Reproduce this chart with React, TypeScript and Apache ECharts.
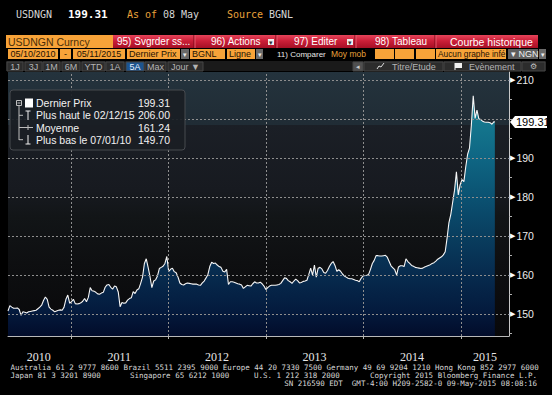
import React, { useEffect, useRef } from "react";
import * as echarts from "echarts";

// ---- data (weekly closes, starting 2010-05-10) ----
const startDate = "2010-05-10";
const pricesY1 = [150.8,152.2,151.8,151.5,151.5,151.6,151.2,149.7,150.6,150.5,150.3,150.6,150.7,150.8,150.9,151.0,151.4,151.8,152.3,153.5,154.4,153.8,151.8,151.3,151.0,150.6,150.8,151.0,151.1,151.0,151.8,153.8,154.9,152.8,153.2,153.8,152.7,152.6,152.7,152.9,153.3,154.0,153.2,154.3,156.8,156.0,155.9,155.6,155.2,155.1,155.4,155.6];
const pricesY2 = [156.9,157.5,157.6,156.9,156.4,157.2,157.0,155.7,151.9,153.0,152.8,152.9,153.6,154.0,154.2,155.8,155.3,156.2,156.5,157.9,159.5,163.0,164.2,162.0,159.6,156.8,158.5,158.8,159.8,161.7,162.0,162.3,163.0,164.8,161.0,161.5,161.8,160.9,160.6,159.5,158.0,157.6,157.5,157.8,158.0,157.9,157.8,157.7,157.7,157.7,157.5,157.4];
const pricesY3 = [158.0,158.5,159.3,160.2,162.2,163.3,163.0,163.1,162.6,162.2,162.0,161.0,160.8,161.5,157.6,158.3,158.3,158.2,158.0,157.8,157.7,157.5,156.6,157.0,157.4,157.3,157.2,157.8,158.3,158.0,158.0,158.2,157.8,157.2,156.3,156.8,157.2,157.4,157.4,157.4,157.5,157.6,157.9,158.6,159.3,159.2,158.6,158.3,157.9,158.5,159.0,158.6];
const pricesY4 = [158.0,158.1,158.4,158.5,158.7,160.2,161.8,160.0,162.6,159.5,161.8,162.0,161.6,160.7,160.5,161.2,162.2,163.0,163.5,162.5,161.0,161.4,161.0,160.3,159.8,159.5,159.2,159.1,159.1,158.9,158.7,158.6,158.3,159.2,159.8,159.9,160.0,160.2,161.5,163.0,163.8,165.0,165.0,164.9,164.9,165.0,165.1,164.6,163.5,162.4,161.9,161.4];
const pricesY5 = [160.0,162.1,162.4,162.4,162.2,164.2,163.5,163.0,162.5,162.3,162.0,161.9,161.8,161.7,161.8,162.1,162.3,162.5,162.7,163.0,163.2,163.6,164.1,164.4,164.7,165.2,166.0,169.5,173.5,175.6,178.7,181.8,186.5,180.6,183.2,184.5,184.0,187.8,191.0,192.6,198.5,206.0,200.2,202.3,200.1,199.9,199.5,199.3,199.2,199.2,199.1,198.7,199.3];
const lastDate = "2015-05-08";
const lastPrice = 199.31;

const axisStart = "2010-05-10";
const axisEnd = "2015-06-30";
const yMin = 144.4;
const yMax = 212.1;
const yGridValues = [150, 160, 170, 180, 190, 200, 210];
const yLabelValues = [150, 160, 170, 180, 190, 210];
const yMinorTicks = [145, 150, 155, 160, 165, 170, 175, 180, 185, 190, 195, 200, 205, 210];
const yearBoundaries = ["2011-01-01", "2012-01-01", "2013-01-01", "2014-01-01", "2015-01-01"];
const yearLabelDates = ["2010-09-02", "2011-07-01", "2012-07-01", "2013-07-01", "2014-07-02", "2015-04-01"];

const legendNames = ["Dernier Prix", "Plus haut le 02/12/15", "Moyenne", "Plus bas le 07/01/10"];
const legendValues = ["199.31", "206.00", "161.24", "149.70"];

const footer1 = "Australia 61 2 9777 8600 Brazil 5511 2395 9000 Europe 44 20 7330 7500 Germany 49 69 9204 1210 Hong Kong 852 2977 6000";
const footer2 = ["Japan 81 3 3201 8900", "Singapore 65 6212 1000", "U.S. 1 212 318 2000", "Copyright 2015 Bloomberg Finance L.P."];
const footer3 = "SN 216590 EDT  GMT-4:00 H209-2582-0 09-May-2015 08:08:16";

const SANS = "'Liberation Sans', Arial, sans-serif";
const MONO = "'DejaVu Sans Mono', monospace";

function ts(s: string) {
  const [y, m, d] = s.split("-").map(Number);
  return new Date(y, m - 1, d).getTime();
}

function T(x: number, y: number, text: string, fill: string, font: string, align = "left", z = 10) {
  return {
    type: "text", x, y, z, silent: true,
    style: { text, fill, font, textAlign: align, align, textVerticalAlign: "middle", verticalAlign: "middle" },
  };
}
function R(x: number, y: number, w: number, h: number, fill: any, stroke?: string, z = 5, r = 0) {
  return {
    type: "rect", z, silent: true,
    shape: { x, y, width: w, height: h, r },
    style: { fill, stroke: stroke || null, lineWidth: stroke ? 1 : 0 },
  };
}
function L(x1: number, y1: number, x2: number, y2: number, stroke: string, z = 10, w = 1) {
  return { type: "line", z, silent: true, shape: { x1, y1, x2, y2 }, style: { stroke, lineWidth: w } };
}

function headerElements() {
  const els: any[] = [];
  els.push(T(16, 14, "USDNGN", "#d6d6d6", `10px ${MONO}`));
  els.push(T(68, 14, "199.31", "#ffffff", `bold 11px ${MONO}`));
  els.push(T(127, 14, "As of", "#e9a23b", `10px ${MONO}`));
  els.push(T(163, 14, "08 May", "#d6d6d6", `10px ${MONO}`));
  els.push(T(227, 14, "Source", "#e9a23b", `10px ${MONO}`));
  els.push(T(269, 14, "BGNL", "#d6d6d6", `10px ${MONO}`));

  els.push(R(6, 35, 107, 13, "#f7a339"));
  els.push(T(8, 41.5, "USDNGN Curncy", "#4a2e08", `10.5px ${SANS}`));
  const red = new echarts.graphic.LinearGradient(0, 0, 0, 1, [
    { offset: 0, color: "#e5445a" },
    { offset: 0.45, color: "#cc1f38" },
    { offset: 1, color: "#a50f25" },
  ]);
  els.push(R(113, 35, 425, 13, red));
  [194, 276, 355, 435].forEach((x) => {
    els.push(L(x, 35, x, 48, "#7a0716", 6));
    els.push(L(x + 1, 35, x + 1, 48, "#e85a6c", 6));
  });
  els.push(T(117, 41.5, "95) Svgrder ss...", "#ffffff", `10px ${SANS}`));
  els.push(T(211, 41.5, "96) Actions", "#ffffff", `10px ${SANS}`));
  els.push(R(268, 39, 6, 6, "#eeeeee", undefined, 6));
  els.push(T(271, 42, "▾", "#333", `7px ${SANS}`, "center", 11));
  els.push(T(294, 41.5, "97) Editer", "#ffffff", `10px ${SANS}`));
  els.push(R(347, 39, 6, 6, "#eeeeee", undefined, 6));
  els.push(T(350, 42, "▾", "#333", `7px ${SANS}`, "center", 11));
  els.push(T(375, 41.5, "98) Tableau", "#ffffff", `10px ${SANS}`));
  els.push(T(450, 41.5, "Courbe historique", "#ffffff", `10.5px ${SANS}`));

  const OR = "#f7a339";
  const boxes: [number, number, string, string][] = [
    [8, 50, "05/10/2010", "center"],
    [60, 11, "-", "center"],
    [73, 52, "05/11/2015", "center"],
    [127, 53, "Dernier Prix", "left"],
    [190, 35, "BGNL", "left"],
    [227, 28, "Ligne", "left"],
    [375, 19, "", "left"],
    [395, 19, "", "left"],
    [416, 19, "", "left"],
    [436, 70, "Aucun graphe infé", "left"],
  ];
  boxes.forEach(([x, w, t, a]) => {
    els.push(R(x, 49, w, 10, OR));
    if (t) els.push(T(a === "center" ? x + w / 2 : x + 2, 54, t, "#1c1204", `${t.length > 14 ? 8.3 : 9}px ${SANS}`, a));
  });
  [[181, 8], [256, 7], [539, 7]].forEach(([x, w]) => {
    els.push(R(x, 49, w, 10, "#6a6a6a"));
    els.push(T(x + w / 2, 54, "▾", "#eeeeee", `7px ${SANS}`, "center"));
  });
  els.push(R(508, 49, 30, 10, "#5e5e5e"));
  els.push(T(511, 54, "▾ NGN", "#f0f0f0", `9px ${SANS}`));
  els.push(T(277, 54, "11) Comparer", "#e8e8e8", `8px ${SANS}`));
  els.push(T(331, 54, "Moy mob", "#e9a23b", `8.5px ${SANS}`));

  els.push(R(6, 61, 540, 10, "#1a1a1a"));
  const btns: [string, number, number][] = [
    ["1J", 7, 23], ["3J", 25, 42], ["1M", 43, 60], ["6M", 62, 80], ["YTD", 82, 105],
    ["1A", 106, 124], ["5A", 126, 144], ["Max", 145, 166], ["Jour ▼", 168, 203],
  ];
  btns.forEach(([t, a, b]) => {
    const sel = t === "5A";
    els.push(R(a, 62, b - a, 9, sel ? "#1c548f" : "#2c2c2c", "#444444"));
    els.push(T((a + b) / 2, 66.5, t, sel ? "#e8f0ff" : "#b4b4b4", `9px ${SANS}`, "center"));
  });
  els.push(R(353, 62, 10, 9, "#505050", "#444"));
  els.push(T(358, 66.5, "◂", "#cccccc", `7px ${SANS}`, "center"));
  els.push(R(364, 62, 79, 9, "#2c2c2c", "#444"));
  els.push({ type: "polyline", z: 11, silent: true, shape: { points: [[377, 69], [379, 66], [381, 67], [384, 63]] }, style: { stroke: "#ddd", lineWidth: 1, fill: null } });
  els.push(T(392, 66.5, "Titre/Etude", "#b4b4b4", `9px ${SANS}`));
  els.push(R(444, 62, 77, 9, "#2c2c2c", "#444"));
  els.push(R(455, 63, 7, 5, "#f0f0f0", undefined, 11));
  els.push(L(455, 63, 455, 70, "#f0f0f0", 11));
  els.push(T(469, 66.5, "Evènement", "#b4b4b4", `9px ${SANS}`));
  els.push(R(522, 62, 23, 9, "#2c2c2c", "#444"));
  els.push(T(533.5, 66.5, "⚙", "#c0c0c0", `8px 'DejaVu Sans', sans-serif`, "center"));
  return els;
}

function legendElements() {
  const els: any[] = [];
  const z = 100;
  els.push(R(10, 90, 175, 60, "rgba(26,30,36,0.92)", "#474a4f", z, 3));
  const rows = [103.3, 115.3, 127.5, 139.7];
  legendNames.forEach((n, i) => {
    els.push(T(36, rows[i], n, "#f2f2f2", `10.5px ${SANS}`, "left", z + 1));
    els.push(T(170, rows[i], legendValues[i], "#f2f2f2", `10.5px ${SANS}`, "right", z + 1));
  });
  const g = "#bdbdbd";
  els.push({ type: "rect", z: z + 1, silent: true, shape: { x: 16.5, y: 100.5, width: 5, height: 5 }, style: { fill: null, stroke: g, lineWidth: 1 } });
  els.push(L(17.5, 103, 20.5, 103, g, z + 1));
  els.push(R(25, 98.5, 8, 9, "#ffffff", undefined, z + 1));
  els.push(L(19, 106, 19, 140, g, z + 1));
  els.push(L(19, 115.3, 23, 115.3, g, z + 1));
  els.push(L(19, 127.5, 33, 127.5, g, z + 1));
  els.push(L(28, 125, 28, 130, g, z + 1));
  els.push(L(19, 139.7, 23, 139.7, g, z + 1));
  els.push(L(28, 111, 28, 120, "#f0f0f0", z + 1));
  els.push(L(25.5, 111, 30.5, 111, "#f0f0f0", z + 1));
  els.push(L(28, 135, 28, 144, "#f0f0f0", z + 1));
  els.push(L(25.5, 144, 30.5, 144, "#f0f0f0", z + 1));
  return els;
}

function footerElements() {
  const f = `7.5px ${MONO}`;
  const c = "#d8d8d8";
  return [
    T(10.5, 367, footer1, c, f),
    T(10.5, 375, footer2[0], c, f),
    T(130, 375, footer2[1], c, f),
    T(254, 375, footer2[2], c, f),
    T(537, 375, footer2[3], c, f, "right"),
    T(537, 383, footer3, c, f, "right"),
  ];
}

function tagElements(y: number) {
  return [
    {
      type: "polygon", z: 50, silent: true,
      shape: { points: [[510, y], [515, y - 6], [547, y - 6], [547, y + 6], [515, y + 6]] },
      style: { fill: "#ffffff" },
    },
    T(516, y + 0.5, String(lastPrice), "#000000", `11px ${SANS}`, "left", 51),
  ];
}

export default function App() {
  const ref = useRef<HTMLDivElement>(null);
  useEffect(() => {
    document.body.style.margin = "0";
    const chart = echarts.init(ref.current!, null, { renderer: "svg" });
    const start = ts(startDate);
    const weekly = [...pricesY1, ...pricesY2, ...pricesY3, ...pricesY4, ...pricesY5];
    const data: [number, number][] = weekly.map((v, i) => [start + i * 7 * 86400000, v]);
    data.push([ts(lastDate), lastPrice]);

    const plotBg = new echarts.graphic.LinearGradient(0, 0, 0, 1, [
      { offset: 0, color: "#24333d" },
      { offset: 0.2, color: "#202c35" },
      { offset: 0.2, color: "#1b1f26" },
      { offset: 0.45, color: "#171a20" },
      { offset: 0.55, color: "#121517" },
      { offset: 0.72, color: "#0e0f11" },
      { offset: 1, color: "#08080a" },
    ]);
    const fill = new echarts.graphic.LinearGradient(0, 79, 0, 336, [
      { offset: 0, color: "#1c8a9c" },
      { offset: 0.15, color: "#15798f" },
      { offset: 0.3, color: "#0f6784" },
      { offset: 0.45, color: "#0b5373" },
      { offset: 0.6, color: "#093f60" },
      { offset: 0.75, color: "#072c4f" },
      { offset: 0.9, color: "#041b3e" },
      { offset: 1, color: "#020c2a" },
    ], true);

    const base = [...headerElements(), ...legendElements(), ...footerElements()];
    const option: any = {
      animation: false,
      backgroundColor: "#000000",
      grid: { left: 8, right: 43, top: 72, bottom: 59, show: true, borderWidth: 0, backgroundColor: plotBg },
      xAxis: {
        type: "value",
        min: ts(axisStart),
        max: ts(axisEnd),
        axisLine: { show: true, lineStyle: { color: "#b8b8b8", width: 1 } },
        axisTick: { show: true, customValues: yearBoundaries.map(ts), length: 3, lineStyle: { color: "#b8b8b8" } },
        axisLabel: {
          customValues: yearLabelDates.map(ts),
          formatter: (v: number) => String(new Date(v).getFullYear()),
          color: "#e6e6e6",
          fontSize: 12,
          fontFamily: "'Liberation Serif', serif",
          margin: 15,
        },
        splitLine: { show: false },
      },
      yAxis: {
        type: "value",
        position: "right",
        min: yMin,
        max: yMax,
        axisLine: { show: true, lineStyle: { color: "#c8c8c8", width: 1 } },
        axisTick: { show: true, customValues: yMinorTicks, length: 3, lineStyle: { color: "#b0b0b0" } },
        axisLabel: {
          customValues: yLabelValues,
          formatter: (v: number) => `{a|▶}{b|${v}}`,
          margin: 1,
          rich: {
            a: { fontSize: 7, color: "#ffffff", fontFamily: "'DejaVu Sans', sans-serif", padding: [0, 1, 0, 0] },
            b: { fontSize: 10.5, color: "#ececec", fontFamily: SANS },
          },
        },
        splitLine: { show: false },
      },
      series: [
        {
          type: "line",
          data,
          showSymbol: false,
          symbol: "none",
          lineStyle: { color: "#f6f6f6", width: 1.1 },
          areaStyle: { origin: "start", color: fill, opacity: 1 },
          markLine: {
            silent: true,
            symbol: ["none", "none"],
            label: { show: false },
            lineStyle: { color: "#8e8e8e", type: [2, 2], width: 1 },
            data: [
              ...yGridValues.map((v) => ({ yAxis: v })),
              ...yearBoundaries.map((d) => ({ xAxis: ts(d) })),
            ],
          },
        },
      ],
      graphic: { elements: base },
    };
    chart.setOption(option);
    const y = chart.convertToPixel({ yAxisIndex: 0 }, lastPrice) as number;
    chart.setOption({ graphic: { elements: [...base, ...tagElements(y)] } });
    return () => chart.dispose();
  }, []);
  return <div ref={ref} style={{ position: "fixed", left: 0, top: 0, width: 552, height: 395, background: "#000" }} />;
}
